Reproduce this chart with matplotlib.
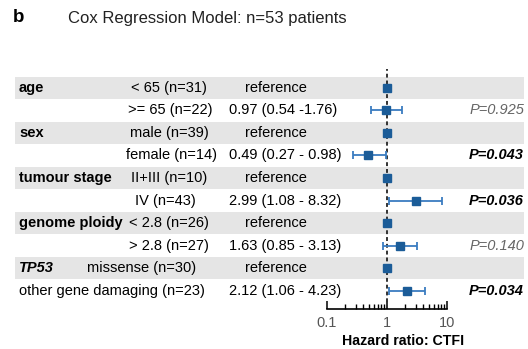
import matplotlib
matplotlib.use("Agg")
import matplotlib.pyplot as plt
from matplotlib.patches import Rectangle
from matplotlib.transforms import blended_transform_factory
from matplotlib.ticker import LogLocator, NullFormatter, FixedLocator

plt.rcParams['font.family'] = ['Liberation Sans', 'DejaVu Sans']

# ---- data ----
groups = ["age", "sex", "tumour stage", "genome ploidy", "TP53"]
categories = ["< 65 (n=31)", ">= 65 (n=22)",
              "male (n=39)", "female (n=14)",
              "II+III (n=10)", "IV (n=43)",
              "< 2.8 (n=26)", "> 2.8 (n=27)",
              "missense (n=30)", "other gene damaging (n=23)"]
hr = [1.0, 0.97, 1.0, 0.49, 1.0, 2.99, 1.0, 1.63, 1.0, 2.12]
ci_low = [None, 0.54, None, 0.27, None, 1.08, None, 0.85, None, 1.06]
ci_high = [None, 1.76, None, 0.98, None, 8.32, None, 3.13, None, 4.23]
hr_text = ["reference", "0.97 (0.54 -1.76)",
           "reference", "0.49 (0.27 - 0.98)",
           "reference", "2.99 (1.08 - 8.32)",
           "reference", "1.63 (0.85 - 3.13)",
           "reference", "2.12 (1.06 - 4.23)"]
p_values = ["P=0.925", "P=0.043", "P=0.036", "P=0.140", "P=0.034"]
p_significant = [False, True, True, False, True]
x_ticks = [0.1, 1, 10]
x_ticklabels = ["0.1", "1", "10"]

# ---- layout ----
W, H = 528, 349
fig = plt.figure(figsize=(W / 100, H / 100), dpi=100)
ax_l, ax_r, ax_t, ax_b = 327, 447, 69, 309
ax = fig.add_axes([ax_l / W, 1 - ax_b / H, (ax_r - ax_l) / W, (ax_b - ax_t) / H])
pitch = 22.6
n = len(categories)
ax.set_ylim(n - 1 + (ax_b - 290.5) / pitch, -(88 - ax_t) / pitch)
ax.set_xscale("log")
ax.set_xlim(0.1, 10)

trans = blended_transform_factory(fig.transFigure, ax.transData)
fx = lambda px: px / W

fs = 10.5
blue_m = "#1b5c98"
blue_l = "#3a7cc0"

# grey bands
for i in range(0, n, 2):
    ax.add_patch(Rectangle((fx(15), i - 0.5), fx(524) - fx(15), 0.97,
                           transform=trans, facecolor="#e5e5e5",
                           edgecolor="none", clip_on=False, zorder=0))

# group labels
for gi, g in enumerate(groups):
    style = "italic" if g == "TP53" else "normal"
    ax.text(fx(19), 2 * gi, g, transform=trans, fontsize=fs, fontweight="bold",
            fontstyle=style, ha="left", va="center")

# category labels
cat_centers = [169, 170, 169, 171, 169, 165, 169, 169, 142, 112]
for i, c in enumerate(categories):
    ax.text(fx(cat_centers[i]), i, c, transform=trans, fontsize=fs,
            ha="center", va="center")

# HR text
for i, t in enumerate(hr_text):
    if t == "reference":
        ax.text(fx(276), i, t, transform=trans, fontsize=fs, ha="center", va="center")
    else:
        ax.text(fx(229), i, t, transform=trans, fontsize=fs, ha="left", va="center")

# p-values
for gi, (p, s) in enumerate(zip(p_values, p_significant)):
    ax.text(fx(524), 2 * gi + 1, p, transform=trans, fontsize=fs,
            fontstyle="italic", fontweight="bold" if s else "normal",
            color="black" if s else "#666666", ha="right", va="center")

# reference line
ax.axvline(1, color="#333333", lw=1.4, ls=(0, (2, 1.5)), zorder=2)

# error bars
for i in range(n):
    if ci_low[i] is not None:
        ax.errorbar(hr[i], i, xerr=[[hr[i] - ci_low[i]], [ci_high[i] - hr[i]]],
                    fmt="none", ecolor=blue_l, elinewidth=1.3, capsize=2.8,
                    capthick=1.3, zorder=3)
ax.plot(hr, range(n), ls="none", marker="s", ms=5.3, color=blue_m, zorder=4)

# axes styling
for s in ["top", "right", "left"]:
    ax.spines[s].set_visible(False)
ax.spines["bottom"].set_linewidth(1.2)
ax.set_yticks([])
ax.set_facecolor("none")
ax.xaxis.set_major_locator(FixedLocator(x_ticks))
ax.set_xticklabels(x_ticklabels)
ax.xaxis.set_minor_locator(LogLocator(base=10, subs=range(2, 10)))
ax.xaxis.set_minor_formatter(NullFormatter())
ax.tick_params(axis="x", which="major", direction="in", length=6, width=1.1,
               labelsize=fs, labelcolor="#555555", pad=5)
ax.tick_params(axis="x", which="minor", direction="in", length=3.5, width=1.0)
ax.set_xlabel("Hazard ratio: CTFI", fontsize=10.2, fontweight="bold")
ax.xaxis.set_label_coords((403 - ax_l) / (ax_r - ax_l), -(341 - ax_b) / (ax_b - ax_t))
ax.xaxis.label.set_va("center")

# titles
fig.text(fx(13), 1 - 18 / H, "b", fontsize=13.5, fontweight="bold", ha="left", va="center")
fig.text(fx(68), 1 - 18 / H, "Cox Regression Model: n=53 patients", fontsize=12,
         ha="left", va="center", color="#222222")

fig.savefig("out.png", dpi=100)
